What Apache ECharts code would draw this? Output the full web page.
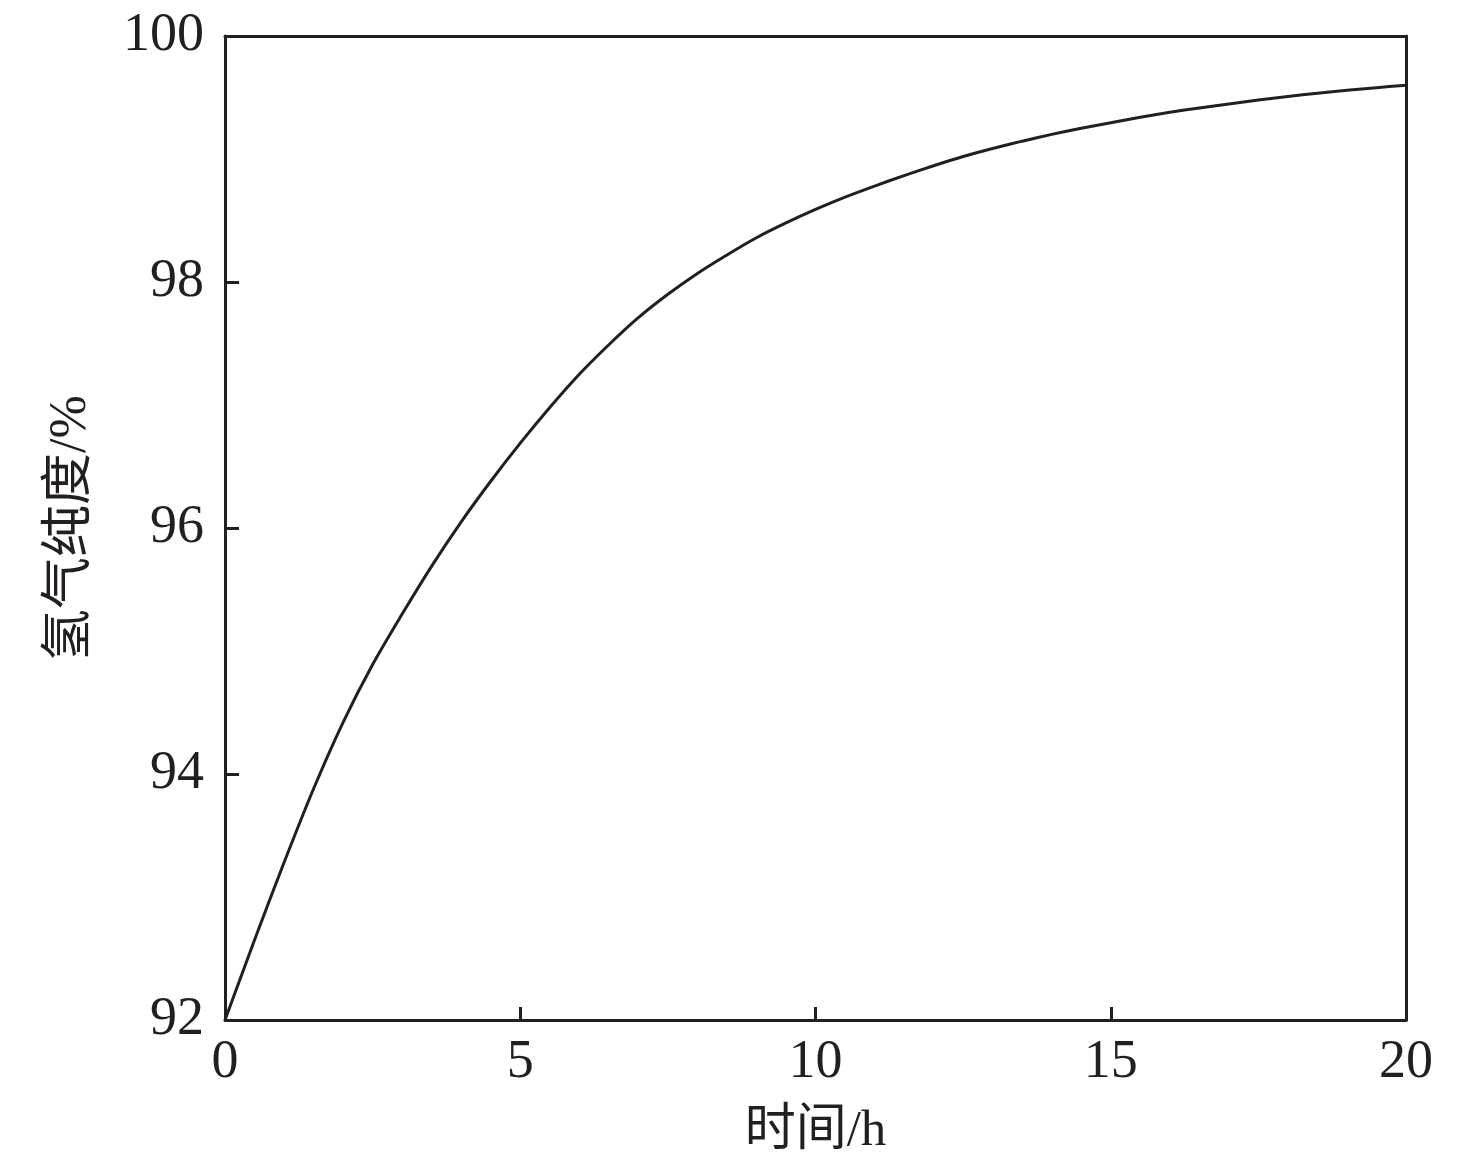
<!DOCTYPE html>
<html>
<head>
<meta charset="utf-8">
<script src="https://cdn.jsdelivr.net/npm/echarts@6/dist/echarts.min.js"></script>
<style>
html,body{margin:0;padding:0;background:#fff;}
#chart{width:1476px;height:1171px;}
</style>
</head>
<body>
<div id="chart"></div>
<script>
// Data
const timeH = [0, 0.5, 1, 1.5, 2, 2.5, 3, 3.5, 4, 4.5, 5, 5.5, 6, 6.5, 7, 7.5, 8, 8.5, 9, 9.5, 10,
  10.5, 11, 11.5, 12, 12.5, 13, 13.5, 14, 14.5, 15, 15.5, 16, 16.5, 17, 17.5, 18, 18.5, 19, 19.5, 20];
const purity = [92.00, 92.65, 93.28, 93.88, 94.42, 94.89, 95.30, 95.69, 96.05, 96.38, 96.69, 96.98, 97.25, 97.49, 97.71, 97.90, 98.07, 98.22, 98.36, 98.48, 98.59,
  98.69, 98.78, 98.865, 98.945, 99.02, 99.085, 99.145, 99.20, 99.25, 99.295, 99.34, 99.38, 99.415, 99.448, 99.48, 99.508, 99.535, 99.558, 99.58, 99.60];
const xName = '时间/h';
const yName = '氢气纯度/%';

const ink = '#231f20';
const serif = '"Liberation Serif", "Noto Sans CJK SC", serif';

const chart = echarts.init(document.getElementById('chart'));
const points = timeH.map((t, i) => [t, purity[i]]);

chart.setOption({
  backgroundColor: '#ffffff',
  animation: false,
  grid: { left: 225, right: 70, top: 36, bottom: 151, containLabel: false },
  xAxis: [{
    type: 'value', min: 0, max: 20, interval: 5,
    name: xName, nameLocation: 'middle', nameGap: 86,
    nameTextStyle: { fontFamily: serif, fontSize: 51, color: ink },
    axisLine: { show: true, onZero: false, lineStyle: { color: ink, width: 3 } },
    axisTick: { show: true, inside: true, length: 13, lineStyle: { color: ink, width: 3 } },
    axisLabel: { fontFamily: serif, fontSize: 54, color: ink, margin: 16 },
    splitLine: { show: false }
  }, {
    type: 'value', position: 'top', min: 0, max: 20,
    axisLine: { show: true, onZero: false, lineStyle: { color: ink, width: 3 } },
    axisTick: { show: false }, axisLabel: { show: false }, splitLine: { show: false }
  }],
  yAxis: [{
    type: 'value', min: 92, max: 100, interval: 2,
    name: yName, nameLocation: 'middle', nameGap: 128, nameRotate: 90,
    nameTextStyle: { fontFamily: serif, fontSize: 52, color: ink },
    axisLine: { show: true, onZero: false, lineStyle: { color: ink, width: 3 } },
    axisTick: { show: true, inside: true, length: 14, lineStyle: { color: ink, width: 3 } },
    axisLabel: { fontFamily: serif, fontSize: 54, color: ink, margin: 21 },
    splitLine: { show: false }
  }, {
    type: 'value', position: 'right', min: 92, max: 100,
    axisLine: { show: true, onZero: false, lineStyle: { color: ink, width: 3 } },
    axisTick: { show: false }, axisLabel: { show: false }, splitLine: { show: false }
  }],
  series: [{
    type: 'line',
    data: points,
    smooth: 0.3,
    showSymbol: false,
    lineStyle: { color: ink, width: 3 },
    clip: true
  }]
});
</script>
</body>
</html>
